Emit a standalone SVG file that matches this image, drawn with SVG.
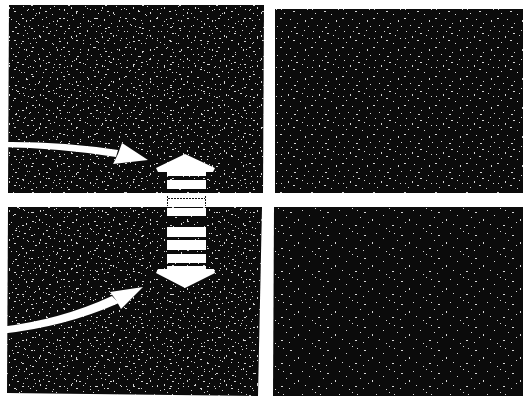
<svg xmlns="http://www.w3.org/2000/svg" width="523" height="396" viewBox="0 0 523 396">
  <style>
    .panel { fill: #0b0b0b; }
    .speck { fill: #d8d8d8; }
    .w { fill: #ffffff; }
    .tick { stroke: #111; stroke-width: 1; fill: none; }
  </style>
  <defs>
    <pattern id="specA" width="31" height="29" patternUnits="userSpaceOnUse">
      <rect class="speck" x="3" y="2" width="1" height="1"/>
      <rect class="speck" x="17" y="4" width="2" height="1"/>
      <rect class="speck" x="25" y="1" width="1" height="1"/>
      <rect class="speck" x="9" y="7" width="1" height="2"/>
      <rect class="speck" x="28" y="9" width="1" height="1"/>
      <rect class="speck" x="14" y="11" width="2" height="1"/>
      <rect class="speck" x="5" y="13" width="1" height="1"/>
      <rect class="speck" x="21" y="14" width="1" height="1"/>
      <rect class="speck" x="1" y="18" width="2" height="1"/>
      <rect class="speck" x="11" y="19" width="1" height="1"/>
      <rect class="speck" x="26" y="20" width="1" height="2"/>
      <rect class="speck" x="18" y="23" width="1" height="1"/>
      <rect class="speck" x="7" y="25" width="1" height="1"/>
      <rect class="speck" x="29" y="26" width="1" height="1"/>
      <rect class="speck" x="15" y="27" width="2" height="1"/>
      <rect class="speck" x="23" y="6" width="1" height="1"/>
      <rect class="speck" x="12" y="2" width="1" height="1"/>
      <rect class="speck" x="2" y="9" width="1" height="1"/>
    </pattern>
    <pattern id="specB" width="37" height="23" patternUnits="userSpaceOnUse">
      <rect class="speck" x="6" y="3" width="1" height="1"/>
      <rect class="speck" x="19" y="1" width="1" height="1"/>
      <rect class="speck" x="31" y="5" width="2" height="1"/>
      <rect class="speck" x="13" y="8" width="1" height="1"/>
      <rect class="speck" x="27" y="10" width="1" height="1"/>
      <rect class="speck" x="2" y="12" width="1" height="2"/>
      <rect class="speck" x="35" y="15" width="1" height="1"/>
      <rect class="speck" x="9" y="17" width="1" height="1"/>
      <rect class="speck" x="22" y="18" width="2" height="1"/>
      <rect class="speck" x="16" y="21" width="1" height="1"/>
      <rect class="speck" x="30" y="20" width="1" height="1"/>
      <rect class="speck" x="24" y="3" width="1" height="1"/>
    </pattern>
  </defs>

  <rect x="0" y="0" width="523" height="396" fill="#ffffff"/>

  <g id="panels">
    <g id="panel-top-left">
      <polygon class="panel" points="9,5 264,5 263,193 8,193"/>
      <polygon fill="url(#specA)" points="9,5 264,5 263,193 8,193"/>
      <polygon fill="url(#specB)" points="9,5 264,5 263,193 8,193"/>
    </g>
    <g id="panel-top-right">
      <polygon class="panel" points="275,9 523,9 523,193 275,193"/>
      <polygon fill="url(#specA)" points="275,9 523,9 523,193 275,193"/>
    </g>
    <g id="panel-bottom-left">
      <polygon class="panel" points="8,207 262,207 258,396 7,393"/>
      <polygon fill="url(#specA)" points="8,207 262,207 258,396 7,393"/>
      <polygon fill="url(#specB)" points="8,207 262,207 258,396 7,393"/>
    </g>
    <g id="panel-bottom-right">
      <polygon class="panel" points="274,207 523,207 523,396 273,396"/>
      <polygon fill="url(#specB)" points="274,207 523,207 523,396 273,396"/>
    </g>
  </g>

  <g id="double-arrow">
    <polygon class="w" points="185,154 215,168 213,172 206,172 206,176 167,176 167,172 158,172 156,168"/>
    <rect class="w" x="167" y="180" width="39" height="9"/>
    <path class="tick" d="M168,198.5 H205 M167.5,196 V206 M205.5,196 V206" stroke-dasharray="2 1"/>
    <rect class="w" x="167" y="208" width="39" height="8"/>
    <rect class="w" x="167" y="227" width="39" height="10"/>
    <rect class="w" x="167" y="240" width="39" height="10"/>
    <rect class="w" x="167" y="254" width="39" height="9"/>
    <polygon class="w" points="167,266 206,266 206,269 214,269 215,273 185,288 156,273 158,269 167,269"/>
  </g>

  <g id="connectors">
    <g id="arrow-upper">
      <path class="w" d="M0,142 Q60,141 118,150 L116,157 Q60,148 0,147 Z"/>
      <polygon class="w" points="148,160 122,143 118,154 113,164"/>
    </g>
    <g id="arrow-lower">
      <path class="w" d="M0,327 Q60,320 112,296 L119,303 Q65,327 0,334 Z"/>
      <polygon class="w" points="143,287 110,292 116,300 121,309"/>
    </g>
  </g>
</svg>
